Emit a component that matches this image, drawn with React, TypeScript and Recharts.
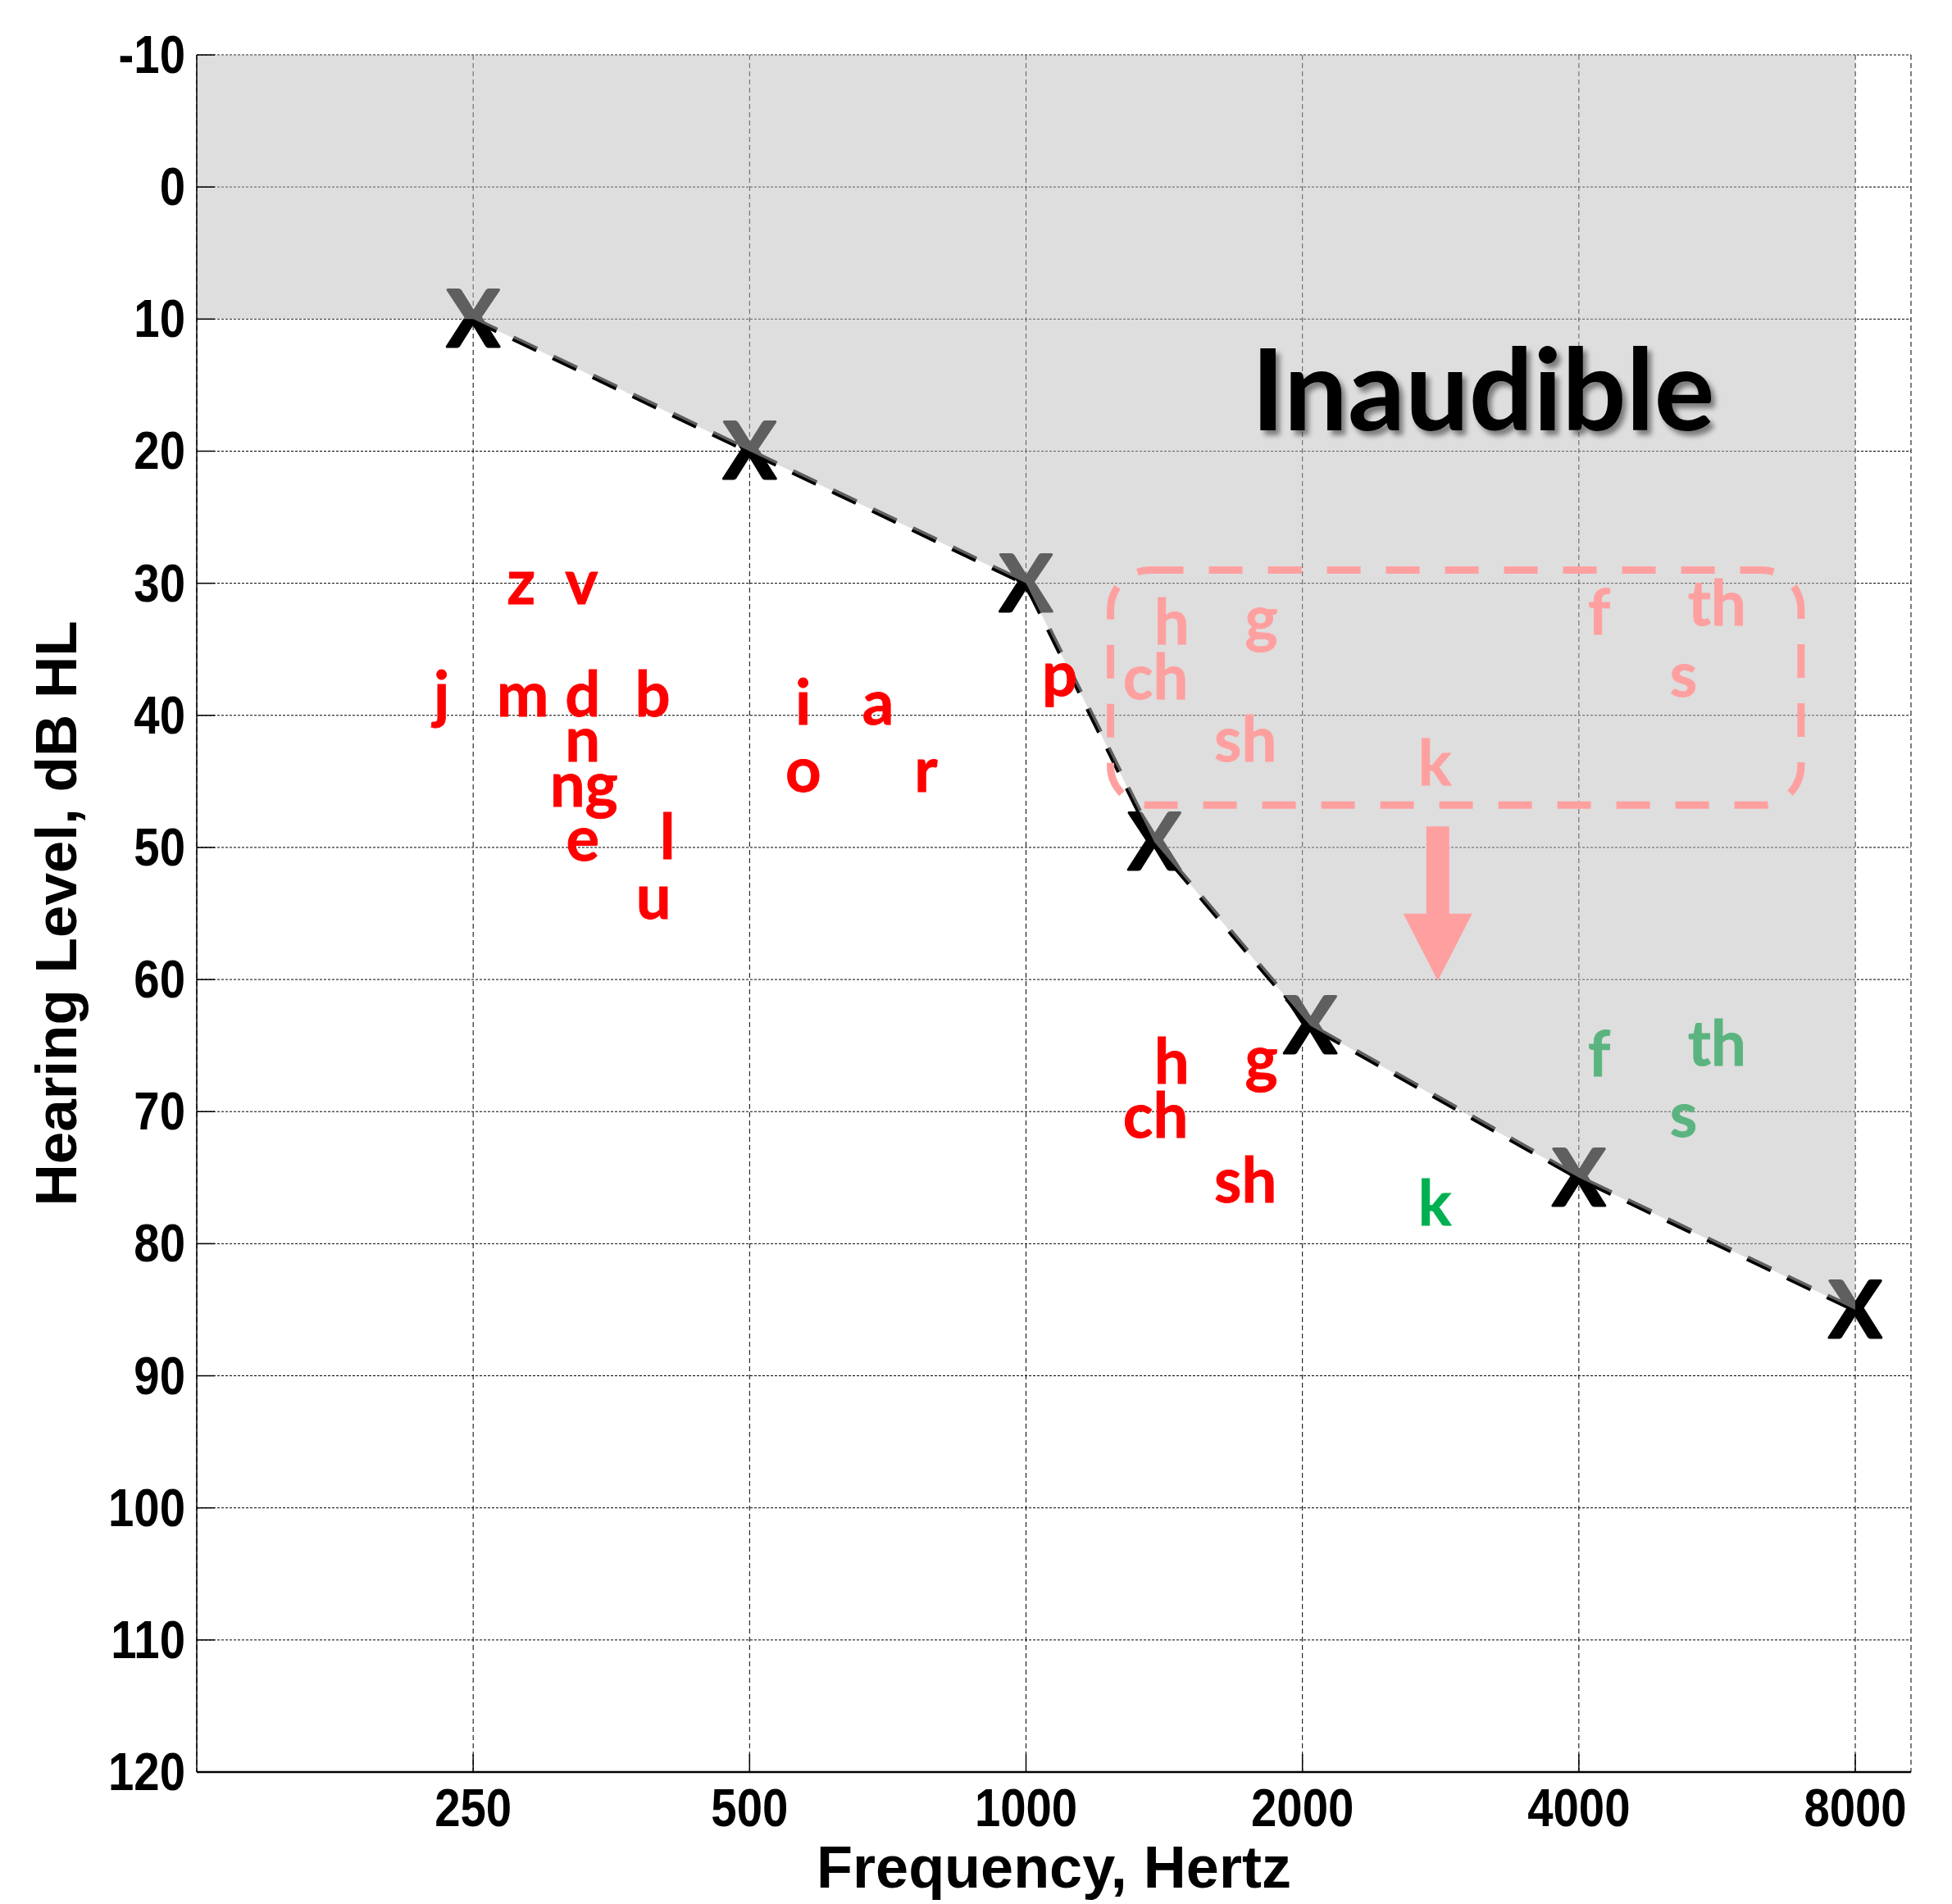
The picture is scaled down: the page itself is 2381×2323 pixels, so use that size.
import React from 'react';
import {
  ComposedChart,
  Area,
  Line,
  Scatter,
  XAxis,
  YAxis,
  CartesianGrid,
  ReferenceArea,
  ReferenceLine,
} from 'recharts';

const FREQ_TICKS = [250, 500, 1000, 2000, 4000, 8000];
const DB_TICKS = [-10, 0, 10, 20, 30, 40, 50, 60, 70, 80, 90, 100, 110, 120];

// thresholds
const thresholdFreqs = [250, 500, 1000, 1380, 2040, 4000, 8000];
const thresholdDb = [10, 20, 30, 49.6, 63.5, 75, 85];

// shaded "inaudible" zone, flat at the 250 Hz level to the left edge
const shadeFreqs = [125, 250, 500, 1000, 1380, 2040, 4000, 8000];
const shadeDb = [10, 10, 20, 30, 49.6, 63.5, 75, 85];

// speech sounds: [label, freq, dB at baseline]
const lowSounds: [string, number, number][] = [
  ['z', 282, 31.6], ['v', 328, 31.6],
  ['j', 231, 40.1], ['m', 283, 40.1], ['d', 329, 40.1], ['b', 392, 40.1],
  ['n', 329, 43.5], ['ng', 330, 46.9], ['e', 329, 51.0], ['l', 407, 50.9],
  ['u', 393, 55.4], ['i', 572, 40.7], ['a', 690, 40.7], ['o', 572, 45.8],
  ['r', 778, 45.8], ['p', 1088, 38.5],
];
const highSoundsRed: [string, number, number][] = [
  ['h', 1441, 67.9], ['g', 1804, 67.6], ['ch', 1384, 72.0], ['sh', 1734, 76.9],
];
const highSoundsLightGreen: [string, number, number][] = [
  ['f', 4209, 67.3], ['th', 5656, 66.5], ['s', 5199, 71.9],
];
const highSoundsGreen: [string, number, number][] = [['k', 2787, 78.6]];
// where the high sounds were before amplification
const originalSounds: [string, number, number][] = [
  ['h', 1441, 34.6], ['g', 1804, 34.3], ['ch', 1384, 38.8], ['sh', 1734, 43.5],
  ['k', 2787, 45.3], ['f', 4209, 33.9], ['th', 5656, 33.2], ['s', 5199, 38.6],
];

const boxFreqs = [1236, 6983];
const boxDb = [29.0, 46.8];
const arrowFreq = 2808;
const arrowDb = [48.4, 55.5, 60.1]; // shaft top, head base, tip

const inaudibleLabel = [{ f: 3145, db: 18.4, text: 'Inaudible' }];

const PINK = '#FFA0A0';
const AXIS_FONT = '"Liberation Sans", Arial, sans-serif';
const LETTER_FONT = 'Lato, "Open Sans", sans-serif';

const thresholdData = thresholdFreqs.map((f, i) => ({ f, db: thresholdDb[i] }));
const shadeData = shadeFreqs.map((f, i) => ({ f, band: [-10, shadeDb[i]] }));
const toRows = (list: [string, number, number][]) =>
  list.map(([text, f, db]) => ({ text, f, db }));

const letterShape = (color: string) => (props: any) => {
  const { cx, cy, payload } = props;
  return (
    <text x={cx} y={cy} textAnchor="middle" fill={color} stroke={color} strokeWidth={0.8} fontSize={76} fontWeight={700} fontFamily={LETTER_FONT}>
      {payload.text}
    </text>
  );
};

const XMark = (props: any) => {
  const { cx, cy } = props;
  return (
    <text x={cx} y={cy} dy={34} textAnchor="middle" fill="#000" stroke="#000" strokeWidth={3} strokeLinejoin="round" fontSize={96} fontWeight={700} fontFamily={LETTER_FONT}>
      X
    </text>
  );
};

const ArrowHead = (props: any) => {
  const { cx, cy } = props;
  return <polygon points={`${cx - 42},${cy - 82} ${cx + 42},${cy - 82} ${cx},${cy}`} fill={PINK} />;
};

const InaudibleText = (props: any) => {
  const { cx, cy, payload } = props;
  return (
    <g>
      <defs>
        <filter id="inaudibleShadow" x="-10%" y="-30%" width="130%" height="160%">
          <feDropShadow dx="5" dy="6" stdDeviation="3" floodColor="#000" floodOpacity="0.45" />
        </filter>
      </defs>
      <text x={cx} y={cy} textAnchor="middle" fill="#000" fontSize={138} fontWeight={700} fontFamily={LETTER_FONT} filter="url(#inaudibleShadow)">
        {payload.text}
      </text>
    </g>
  );
};

// tick labels are drawn condensed, like the narrow bold face in the original
const YTick = (props: any) => {
  const { x, y, payload } = props;
  return (
    <g>
      <line x1={x + 14} x2={x + 36} y1={y} y2={y} stroke="#000" strokeWidth={1.5} />
      <text transform={`translate(${x} ${y + 22}) scale(0.88 1)`} textAnchor="end" fill="#000" fontSize={64} fontWeight={700} fontFamily={AXIS_FONT}>
        {payload.value}
      </text>
    </g>
  );
};

const XTick = (props: any) => {
  const { x, y, payload } = props;
  return (
    <g>
      <line x1={x} x2={x} y1={y - 21} y2={y - 43} stroke="#000" strokeWidth={1.5} />
      <text transform={`translate(${x} ${y + 45}) scale(0.88 1)`} textAnchor="middle" fill="#000" fontSize={64} fontWeight={700} fontFamily={AXIS_FONT}>
        {payload.value}
      </text>
    </g>
  );
};

const XTitle = (props: any) => {
  const vb = props.viewBox || { x: 240, y: 2162, width: 2091 };
  return (
    <text x={vb.x + vb.width / 2} y={vb.y + 141} textAnchor="middle" fill="#000" fontSize={72} fontWeight={700} fontFamily={AXIS_FONT}>
      Frequency, Hertz
    </text>
  );
};

const YTitle = (props: any) => {
  const vb = props.viewBox || { x: 0, y: 67, height: 2095 };
  const cx = 93;
  const cy = vb.y + vb.height / 2;
  return (
    <text x={cx} y={cy} transform={`rotate(-90 ${cx} ${cy})`} textAnchor="middle" fill="#000" fontSize={71} fontWeight={700} fontFamily={AXIS_FONT}>
      Hearing Level, dB HL
    </text>
  );
};

export default function App() {
  return (
    <div style={{ position: 'absolute', left: 0, top: 0, width: 2381, height: 2323, background: '#fff' }}>
      <ComposedChart width={2381} height={2323} margin={{ top: 67, right: 50, bottom: 0, left: 0 }}>
        <CartesianGrid vertical={false} stroke="#000" strokeDasharray="3 2" />
        <CartesianGrid horizontal={false} stroke="#000" strokeDasharray="6 4" />
        <XAxis
          dataKey="f"
          type="number"
          scale="log"
          domain={[125, 9200]}
          ticks={FREQ_TICKS}
          interval={0}
          height={161}
          tickSize={0}
          tickMargin={21}
          tickLine={false}
          tick={<XTick />}
          axisLine={{ stroke: '#000', strokeWidth: 2.5 }}
          label={<XTitle />}
          allowDataOverflow
        />
        <YAxis
          type="number"
          domain={[-10, 120]}
          ticks={DB_TICKS}
          interval={0}
          reversed
          width={240}
          tickSize={0}
          tickMargin={14}
          tickLine={false}
          tick={<YTick />}
          axisLine={{ stroke: '#000', strokeWidth: 1.5 }}
          label={<YTitle />}
          allowDataOverflow
        />
        <Line
          data={thresholdData}
          dataKey="db"
          type="linear"
          stroke="#000"
          strokeWidth={7}
          strokeDasharray="32 22"
          dot={false}
          isAnimationActive={false}
          zIndex={100}
        />
        <Scatter data={thresholdData} dataKey="db" shape={XMark} isAnimationActive={false} zIndex={150} />
        <Area
          data={shadeData}
          dataKey="band"
          type="linear"
          stroke="none"
          fill="#BEBEBE"
          fillOpacity={0.5}
          isAnimationActive={false}
          zIndex={200}
        />
        <ReferenceArea
          x1={boxFreqs[0]}
          x2={boxFreqs[1]}
          y1={boxDb[0]}
          y2={boxDb[1]}
          zIndex={300}
          shape={(p: any) => (
            <rect x={p.x} y={p.y} width={p.width} height={p.height} rx={48} ry={48} fill="none" stroke={PINK} strokeWidth={9} strokeDasharray="41 31" />
          )}
        />
        <ReferenceLine
          segment={[{ x: arrowFreq, y: arrowDb[0] }, { x: arrowFreq, y: arrowDb[1] }]}
          stroke={PINK}
          strokeWidth={28}
          zIndex={300}
        />
        <Scatter data={[{ f: arrowFreq, db: arrowDb[2] }]} dataKey="db" shape={ArrowHead} isAnimationActive={false} zIndex={300} />
        <Scatter data={inaudibleLabel} dataKey="db" shape={InaudibleText} isAnimationActive={false} zIndex={400} />
        <Scatter data={toRows(lowSounds)} dataKey="db" shape={letterShape('#FF0000')} isAnimationActive={false} zIndex={400} />
        <Scatter data={toRows(highSoundsRed)} dataKey="db" shape={letterShape('#FF0000')} isAnimationActive={false} zIndex={400} />
        <Scatter data={toRows(highSoundsLightGreen)} dataKey="db" shape={letterShape('#5BB47F')} isAnimationActive={false} zIndex={400} />
        <Scatter data={toRows(highSoundsGreen)} dataKey="db" shape={letterShape('#00B050')} isAnimationActive={false} zIndex={400} />
        <Scatter data={toRows(originalSounds)} dataKey="db" shape={letterShape(PINK)} isAnimationActive={false} zIndex={400} />
      </ComposedChart>
    </div>
  );
}
